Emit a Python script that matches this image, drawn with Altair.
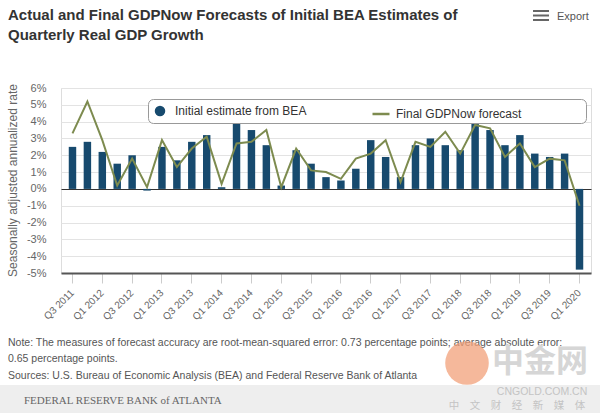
import altair as alt
import pandas as pd

quarters = ["Q3 2011", "Q4 2011", "Q1 2012", "Q2 2012", "Q3 2012", "Q4 2012",
            "Q1 2013", "Q2 2013", "Q3 2013", "Q4 2013", "Q1 2014", "Q2 2014",
            "Q3 2014", "Q4 2014", "Q1 2015", "Q2 2015", "Q3 2015", "Q4 2015",
            "Q1 2016", "Q2 2016", "Q3 2016", "Q4 2016", "Q1 2017", "Q2 2017",
            "Q3 2017", "Q4 2017", "Q1 2018", "Q2 2018", "Q3 2018", "Q4 2018",
            "Q1 2019", "Q2 2019", "Q3 2019", "Q4 2019", "Q1 2020"]
bea = [2.5, 2.8, 2.2, 1.5, 2.0, -0.1, 2.5, 1.7, 2.8, 3.2, 0.1, 4.0,
       3.5, 2.6, 0.2, 2.3, 1.5, 0.7, 0.5, 1.2, 2.9, 1.9, 0.7, 2.6,
       3.0, 2.6, 2.3, 4.1, 3.5, 2.6, 3.2, 2.1, 1.9, 2.1, -4.8]
gdpnow = [3.3, 5.2, 2.9, 0.2, 1.8, 0.1, 2.9, 1.3, 2.4, 3.1, 0.3, 2.7,
          2.8, 3.5, 0.1, 2.4, 1.1, 1.0, 0.6, 1.8, 2.1, 2.9, 0.4, 2.8,
          2.5, 3.4, 2.1, 3.8, 3.6, 1.9, 2.7, 1.3, 1.8, 1.7, -1.0]
tick_labels = ["Q3 2011", "Q1 2012", "Q3 2012", "Q1 2013", "Q3 2013", "Q1 2014",
               "Q3 2014", "Q1 2015", "Q3 2015", "Q1 2016", "Q3 2016", "Q1 2017",
               "Q3 2017", "Q1 2018", "Q3 2018", "Q1 2019", "Q3 2019", "Q1 2020"]
y_ticks = [-5, -4, -3, -2, -1, 0, 1, 2, 3, 4, 5, 6]
series_bea = "Initial estimate from BEA"
series_now = "Final GDPNow forecast"
title_lines = ["Actual and Final GDPNow Forecasts of Initial BEA Estimates of",
               "Quarterly Real GDP Growth"]
note_lines = ["Note: The measures of forecast accuracy are root-mean-squared error: 0.73 percentage points; average absolute error:",
              "0.65 percentage points.",
              "Sources: U.S. Bureau of Economic Analysis (BEA) and Federal Reserve Bank of Atlanta"]
y_title = "Seasonally adjusted annualized rate"

FONT = "Liberation Sans"
df = pd.DataFrame({"quarter": quarters, "bea": bea, "gdpnow": gdpnow,
                   "s1": series_bea, "s2": series_now})
base = alt.Chart(df)

x_axis = alt.Axis(values=tick_labels, labelAngle=315, labelAlign="right",
                  labelBaseline="middle", labelFontSize=10, labelColor="#666666",
                  labelPadding=8, ticks=True, tickColor="#cccccc", tickSize=10,
                  domainColor="#555555", domainWidth=2, grid=False,
                  labelOverlap=False, title=None)
x_scale = alt.Scale(paddingInner=0.5, paddingOuter=0.52)
y_scale = alt.Scale(domain=[-5, 6], nice=False, zero=False)
y_axis = alt.Axis(values=y_ticks, labelExpr="datum.value + '%'", grid=True,
                  gridColor={"condition": {"test": "datum.value === 0", "value": "#333333"},
                             "value": "#e3e3e3"},
                  domain=False, ticks=False, labelPadding=15,
                  labelFontSize=11, labelColor="#666666", labelOverlap=False,
                  title=y_title, titleFontSize=12, titleColor="#666666",
                  titleFontWeight="normal", titleX=-49, titleY=92, titleAngle=270,
                  titleAlign="center", titleBaseline="middle")

leg1 = alt.Legend(title=" ", titleOrient="right", titlePadding=274, titleFontSize=12,
                  orient="none", legendX=87, legendY=11, direction="horizontal",
                  symbolType="circle", symbolSize=110, symbolStrokeWidth=0,
                  labelFontSize=12, labelColor="#333333", labelFont=FONT,
                  labelOffset=9, fillColor="white", strokeColor="#999999",
                  cornerRadius=5, padding=6, zindex=1)
leg2 = alt.Legend(title=None, orient="none", legendX=310, legendY=16,
                  direction="horizontal", symbolType="stroke", symbolSize=289,
                  symbolStrokeWidth=2.5, labelFontSize=12, labelColor="#333333",
                  labelFont=FONT, labelOffset=5, padding=0, zindex=2)

bars = base.mark_bar().encode(
    x=alt.X("quarter:N", sort=quarters, scale=x_scale, axis=x_axis),
    y=alt.Y("bea:Q", scale=y_scale, axis=y_axis),
    color=alt.Color("s1:N", scale=alt.Scale(domain=[series_bea], range=["#174a6e"]),
                    legend=leg1),
)
line = base.mark_line(strokeWidth=2).encode(
    x=alt.X("quarter:N", sort=quarters, scale=x_scale, axis=x_axis),
    y=alt.Y("gdpnow:Q", scale=y_scale, axis=y_axis),
    stroke=alt.Stroke("s2:N", scale=alt.Scale(domain=[series_now], range=["#7d8b4f"]),
                      legend=leg2),
)


def txt(s, x, y, size, color, font=FONT, align="left", baseline="alphabetic",
        weight="normal"):
    return alt.Chart(alt.InlineData(values=[{"k": 1}])).mark_text(
        text=s, fontSize=size, color=color, font=font, align=align,
        baseline=baseline, fontWeight=weight).encode(
        x=alt.value(x), y=alt.value(y))


def hrule(x1, x2, y, color, w):
    return alt.Chart(alt.InlineData(values=[{"k": 1}])).mark_rule(
        color=color, strokeWidth=w).encode(x=alt.value(x1), x2=alt.value(x2), y=alt.value(y))


band = alt.Chart(alt.InlineData(values=[{"k": 1}])).mark_rect(color="#eeeeee").encode(
    x=alt.value(-61), x2=alt.value(539), y=alt.value(297), y2=alt.value(325))
logo = alt.Chart(alt.InlineData(values=[{"k": 1}])).mark_point(
    shape="circle", filled=True, color="#f2a07a", opacity=0.75, size=1900).encode(
    x=alt.value(406), y=alt.value(275))

layers = [bars, line,
          txt(title_lines[0], -53, -68, 15, "#333333", weight="bold"),
          txt(title_lines[1], -53, -48, 15, "#333333", weight="bold"),
          txt(note_lines[0], -53, 258, 10.5, "#555555"),
          txt(note_lines[1], -53, 274, 10.5, "#555555"),
          txt(note_lines[2], -53, 291, 10.5, "#555555"),
          band,
          txt("FEDERAL RESERVE BANK of ATLANTA", -37, 316, 11, "#666666",
              font="Liberation Serif"),
          logo,
          txt("中金网", 479, 274, 32, "#d6d6d6", font="Noto Sans CJK SC",
              align="center", baseline="middle", weight="bold"),
          txt("CNGOLD.COM.CN", 481, 304, 10.5, "#c4c4c4", align="center", baseline="middle"),
          txt("中\u3000文\u3000财\u3000经\u3000新\u3000媒\u3000体", 456, 318, 10.5, "#c4c4c4",
              font="Noto Sans CJK SC", align="center", baseline="middle"),
          hrule(472, 488, -77, "#666666", 2),
          hrule(472, 488, -72.5, "#666666", 2),
          hrule(472, 488, -68, "#666666", 2),
          txt("Export", 496, -68, 11, "#555555"),
          ]

chart = alt.layer(*layers).properties(
    width=530, height=185,
    padding={"left": 61, "top": 88, "right": 9, "bottom": 140},
    autosize=alt.AutoSizeParams(type="none"),
).configure_view(stroke=None).configure(font=FONT, background="white")

chart.save("out.html", embed_options={"renderer": "svg", "actions": False})
